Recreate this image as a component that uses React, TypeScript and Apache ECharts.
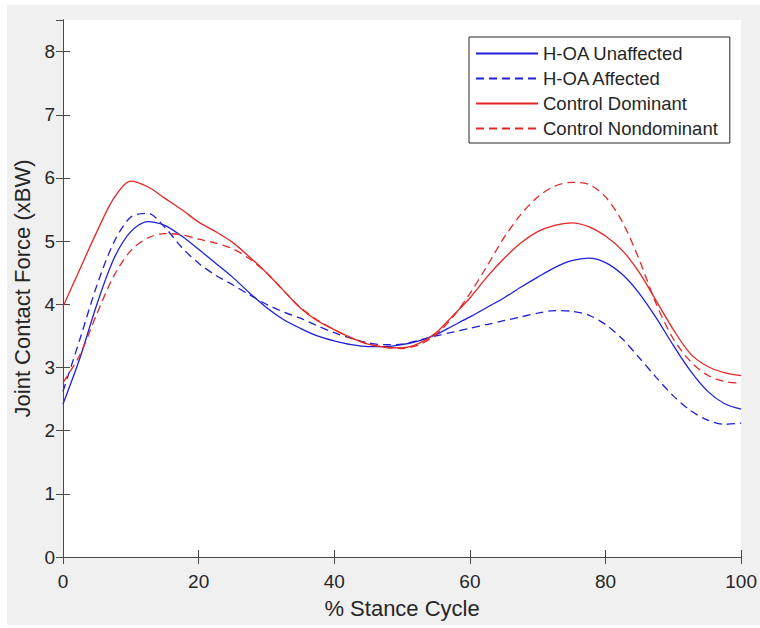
import React, { useEffect, useRef } from "react";
import * as echarts from "echarts";

const stance = [0, 2.5, 5, 7.5, 10, 12.5, 15, 17.5, 20, 22.5, 25, 27.5, 30, 32.5, 35, 37.5, 40, 42.5, 45, 47.5, 50, 52.5, 55, 57.5, 60, 62.5, 65, 67.5, 70, 72.5, 75, 77.5, 80, 82.5, 85, 87.5, 90, 92.5, 95, 97.5, 100];

const hoaUnaffected = [2.42, 3.15, 4.0, 4.72, 5.15, 5.31, 5.25, 5.08, 4.87, 4.65, 4.43, 4.18, 3.95, 3.76, 3.62, 3.5, 3.42, 3.36, 3.33, 3.33, 3.36, 3.42, 3.52, 3.66, 3.8, 3.95, 4.1, 4.27, 4.43, 4.58, 4.69, 4.73, 4.66, 4.47, 4.17, 3.78, 3.35, 2.95, 2.63, 2.43, 2.34];

const hoaAffected = [2.62, 3.45, 4.3, 4.98, 5.38, 5.44, 5.22, 4.9, 4.65, 4.46, 4.31, 4.15, 4.0, 3.88, 3.78, 3.66, 3.55, 3.46, 3.39, 3.36, 3.37, 3.43, 3.5, 3.56, 3.62, 3.68, 3.74, 3.8, 3.86, 3.9, 3.89, 3.83, 3.68, 3.45, 3.15, 2.84, 2.55, 2.32, 2.17, 2.1, 2.12];

const controlDominant = [3.96, 4.56, 5.15, 5.68, 5.95, 5.86, 5.68, 5.5, 5.3, 5.15, 4.98, 4.75, 4.5, 4.22, 3.94, 3.74, 3.6, 3.47, 3.37, 3.32, 3.31, 3.38, 3.55, 3.82, 4.1, 4.43, 4.72, 4.97, 5.15, 5.25, 5.29, 5.23, 5.08, 4.85, 4.5, 4.05, 3.6, 3.22, 3.02, 2.92, 2.87];

const controlNondominant = [2.76, 3.2, 3.85, 4.45, 4.85, 5.05, 5.12, 5.1, 5.03, 4.97, 4.88, 4.72, 4.5, 4.22, 3.95, 3.75, 3.6, 3.47, 3.37, 3.32, 3.3, 3.36, 3.52, 3.8, 4.17, 4.6, 5.05, 5.42, 5.7, 5.87, 5.93, 5.9, 5.7, 5.3, 4.7, 4.0, 3.45, 3.1, 2.88, 2.78, 2.75];

const seriesNames = ["H-OA Unaffected", "H-OA Affected", "Control Dominant", "Control Nondominant"];
const xTicks = [0, 20, 40, 60, 80, 100];

const BLUE = "#1f1fd8";
const RED = "#e52626";
const AXIS = "#4a4a4a";
const TEXT = "#262626";
const FONT = "'Liberation Sans', Arial, Helvetica, sans-serif";

export default function App() {
  const ref = useRef<HTMLDivElement>(null);
  useEffect(() => {
    if (!ref.current) return;
    const chart = echarts.init(ref.current, undefined, { renderer: "svg" });
    const pair = (vals: number[]) => stance.map((t, i) => [t, vals[i]]);
    const mk = (name: string, vals: number[], color: string, dashed: boolean) => ({
      name,
      type: "line",
      data: pair(vals),
      smooth: 0.3,
      symbol: "none",
      showSymbol: false,
      lineStyle: { color, width: 1.3, type: dashed ? [8, 5] : "solid" },
      itemStyle: { color },
      z: 3,
    });
    const axisCommon = {
      axisLine: { show: true, lineStyle: { color: AXIS, width: 1 } },
      axisTick: { show: true, inside: true, length: 7, lineStyle: { color: AXIS, width: 1 } },
      splitLine: { show: false },
    };
    chart.setOption({
      animation: false,
      backgroundColor: "#ffffff",
      textStyle: { fontFamily: FONT },
      graphic: [
        {
          type: "rect",
          z: -100,
          silent: true,
          shape: { x: 7, y: 5, width: 753, height: 620 },
          style: { fill: "#f0f0f0" },
        },
      ],
      grid: {
        left: 63,
        right: 17,
        top: 20,
        bottom: 71,
        show: true,
        backgroundColor: "#ffffff",
        borderWidth: 0,
      },
      legend: {
        orient: "vertical",
        left: 469,
        top: 37,
        data: seriesNames,
        itemWidth: 62,
        itemHeight: 14,
        itemGap: 6,
        itemStyle: { opacity: 0 },
        padding: [7, 12, 5, 6],
        backgroundColor: "#ffffff",
        borderColor: TEXT,
        borderWidth: 1,
        borderRadius: 0,
        textStyle: { fontFamily: FONT, fontSize: 18.5, color: TEXT },
      },
      xAxis: [
        {
          type: "value",
          min: 0,
          max: 100,
          interval: 20,
          position: "bottom",
          ...axisCommon,
          axisLabel: {
            margin: 15,
            fontFamily: FONT,
            fontSize: 19,
            color: TEXT,
            formatter: (v: number) => (xTicks.includes(v) ? String(v) : ""),
          },
          name: "% Stance Cycle",
          nameLocation: "middle",
          nameGap: 40,
          nameTextStyle: { fontFamily: FONT, fontSize: 22, color: TEXT },
        },
        {
          type: "value",
          min: 0,
          max: 100,
          interval: 20,
          position: "top",
          ...axisCommon,
          axisLabel: { show: false },
        },
      ],
      yAxis: [
        {
          type: "value",
          min: 0,
          max: 8.5,
          interval: 1,
          position: "left",
          ...axisCommon,
          axisLabel: {
            margin: 8,
            fontFamily: FONT,
            fontSize: 19,
            color: TEXT,
            showMaxLabel: false,
          },
          name: "Joint Contact Force (xBW)",
          nameLocation: "middle",
          nameGap: 25,
          nameTextStyle: { fontFamily: FONT, fontSize: 22, color: TEXT },
        },
        {
          type: "value",
          min: 0,
          max: 8.5,
          interval: 1,
          position: "right",
          ...axisCommon,
          axisLabel: { show: false },
        },
      ],
      series: [
        mk(seriesNames[0], hoaUnaffected, BLUE, false),
        mk(seriesNames[1], hoaAffected, BLUE, true),
        mk(seriesNames[2], controlDominant, RED, false),
        mk(seriesNames[3], controlNondominant, RED, true),
      ],
    });
    return () => chart.dispose();
  }, []);
  return (
    <div
      ref={ref}
      style={{ position: "absolute", left: 0, top: 0, width: 760, height: 628 }}
    />
  );
}
